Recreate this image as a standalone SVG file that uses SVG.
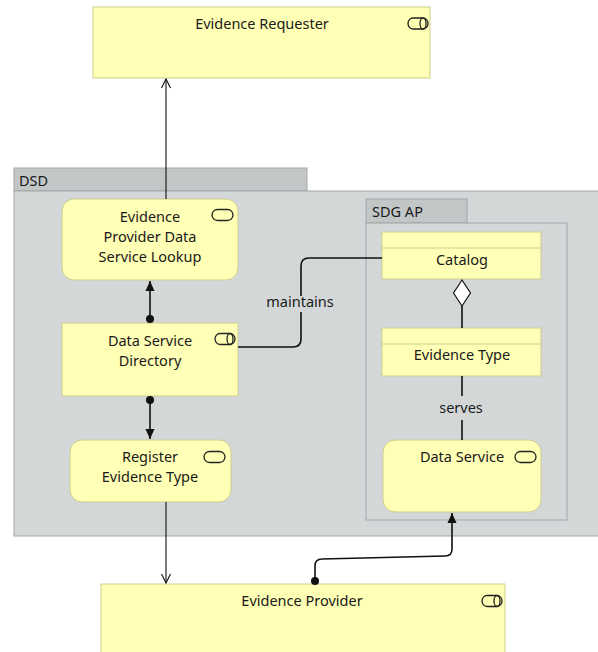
<svg xmlns="http://www.w3.org/2000/svg" width="598" height="652" viewBox="0 0 598 652">
<defs>
<style>
.grp{fill:#d3d7d8;stroke:#a2a6a7;stroke-width:1}
.tab{fill:#c2c6c7;stroke:#a2a6a7;stroke-width:1}
.node{fill:#ffffb5;stroke:#cdcd92;stroke-width:1}
.t{font-family:"Noto Sans","Open Sans",sans-serif;font-size:14.5px;fill:#1a1a1a;text-anchor:middle}
.tl{text-anchor:start}
.ic{fill:none;stroke:#222;stroke-width:1.3}
.ln{fill:none;stroke:#111;stroke-width:1.1}
.lnb{fill:none;stroke:#111;stroke-width:1.6}
.lbl{fill:#d3d7d8}
</style>
<marker id="open" viewBox="-11 -6 12 12" refX="0" refY="0" markerWidth="12" markerHeight="12" markerUnits="userSpaceOnUse" orient="auto">
<path d="M-9,-4.5 L0,0 L-9,4.5" fill="none" stroke="#111" stroke-width="1.1"/>
</marker>
<marker id="fill" viewBox="-11 -6 12 12" refX="0" refY="0" markerWidth="12" markerHeight="12" markerUnits="userSpaceOnUse" orient="auto">
<path d="M-10,-4.5 L0,0 L-10,4.5 z" fill="#111"/>
</marker>
<marker id="dot" viewBox="-5 -5 10 10" refX="0" refY="0" markerWidth="10" markerHeight="10" markerUnits="userSpaceOnUse" orient="auto">
<circle cx="0" cy="0" r="4" fill="#111"/>
</marker>
</defs>
<rect width="598" height="652" fill="#ffffff"/>

<g id="DSD">
<rect class="tab" x="14" y="168" width="293" height="23"/>
<rect class="grp" x="14" y="191" width="590" height="345"/>
<text class="t tl" x="19" y="186">DSD</text>
</g>

<g id="SDG_AP">
<rect class="tab" x="366" y="199" width="101" height="24"/>
<rect class="grp" x="366" y="223" width="201" height="297"/>
<text class="t tl" x="372" y="217">SDG AP</text>
</g>

<g id="EvidenceRequester">
<rect class="node" x="93" y="7" width="337" height="71"/>
<text class="t" x="262" y="29">Evidence Requester</text>
<path class="ic" d="M413,18 h10 a5,5.5 0 0 1 0,11 h-10 a5,5.5 0 0 1 0,-11 z"/>
<ellipse class="ic" cx="423" cy="23.5" rx="3" ry="5.5"/>
</g>

<g id="EPDSLookup">
<rect class="node" x="62" y="199" width="176" height="81" rx="12" ry="12"/>
<text class="t" x="150" y="222">Evidence</text>
<text class="t" x="150" y="242">Provider Data</text>
<text class="t" x="150" y="262">Service Lookup</text>
<rect class="ic" x="212" y="209.5" width="21" height="11" rx="5.5" ry="5.5"/>
</g>

<g id="DataServiceDirectory">
<rect class="node" x="62" y="323" width="176" height="73"/>
<text class="t" x="150" y="346">Data Service</text>
<text class="t" x="150" y="366">Directory</text>
<path class="ic" d="M220,333.5 h10 a5,5.5 0 0 1 0,11 h-10 a5,5.5 0 0 1 0,-11 z"/>
<ellipse class="ic" cx="230" cy="339" rx="3" ry="5.5"/>
</g>

<g id="RegisterEvidenceType">
<rect class="node" x="70" y="440" width="161" height="62" rx="12" ry="12"/>
<text class="t" x="150" y="462">Register</text>
<text class="t" x="150" y="482">Evidence Type</text>
<rect class="ic" x="204" y="451.5" width="21" height="11" rx="5.5" ry="5.5"/>
</g>

<g id="Catalog">
<rect class="node" x="382" y="232" width="159" height="47"/>
<line class="node" x1="382" y1="248" x2="541" y2="248"/>
<text class="t" x="462" y="265">Catalog</text>
</g>

<g id="EvidenceType">
<rect class="node" x="382" y="328" width="159" height="48"/>
<line class="node" x1="382" y1="344" x2="541" y2="344"/>
<text class="t" x="462" y="360">Evidence Type</text>
</g>

<g id="DataService">
<rect class="node" x="383" y="440" width="158" height="72" rx="12" ry="12"/>
<text class="t" x="462" y="462">Data Service</text>
<rect class="ic" x="515" y="451.5" width="21" height="11" rx="5.5" ry="5.5"/>
</g>

<g id="EvidenceProvider">
<rect class="node" x="101" y="584" width="404" height="80"/>
<text class="t" x="302" y="606">Evidence Provider</text>
<path class="ic" d="M487,595.5 h10 a5,5.5 0 0 1 0,11 h-10 a5,5.5 0 0 1 0,-11 z"/>
<ellipse class="ic" cx="497" cy="601" rx="3" ry="5.5"/>
</g>

<g id="connectors">
<path class="ln" d="M166,199 V79" marker-end="url(#open)"/>
<path class="lnb" d="M150,319 V281" marker-start="url(#dot)" marker-end="url(#fill)"/>
<path class="lnb" d="M150,400 V439" marker-start="url(#dot)" marker-end="url(#fill)"/>
<path class="ln" d="M166,502 V583" marker-end="url(#open)"/>
<path class="lnb" d="M315,581 V566 Q315,559 322,559 L445,556 Q452,556 452,549 V513" marker-start="url(#dot)" marker-end="url(#fill)"/>
<path class="lnb" d="M238,347 H293 Q301,347 301,339 V266 Q301,258 309,258 H382"/>
<rect class="lbl" x="262" y="296" width="78" height="16"/>
<text class="t" x="300" y="307">maintains</text>
<path class="lnb" d="M462,306 V328"/>
<polygon points="462,280 470.5,293 462,306 453.5,293" fill="#ffffff" stroke="#111" stroke-width="1.2"/>
<path class="lnb" d="M462,376 V396 M462,420 V440"/>
<text class="t" x="461" y="413">serves</text>
</g>
</svg>
